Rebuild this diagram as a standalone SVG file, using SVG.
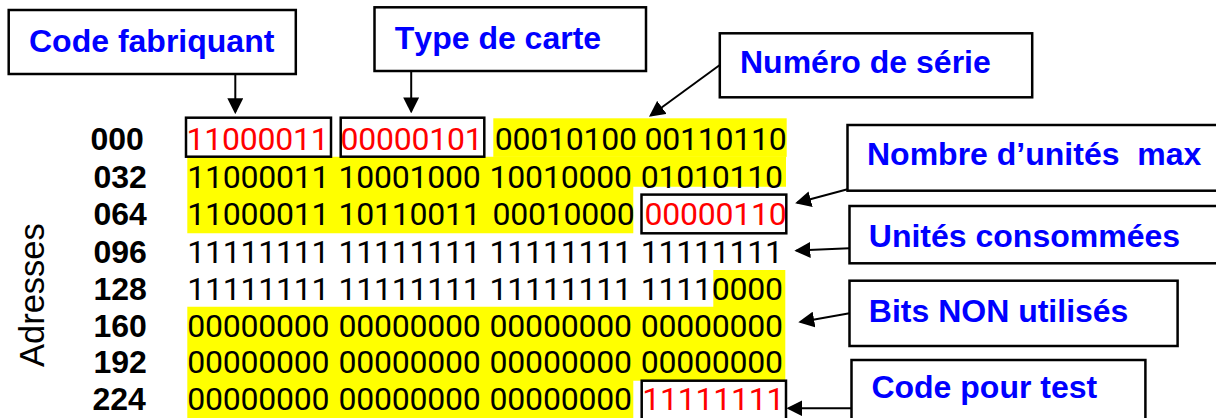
<svg xmlns="http://www.w3.org/2000/svg" width="1216" height="418" viewBox="0 0 1216 418">
<style>
text{font-kerning:none;font-variant-ligatures:none}
.bits{font-family:Roboto,"Liberation Sans",Arial,sans-serif;font-size:32px;fill:#000}
.red{fill:#FF0000}
.adr{font-family:"Liberation Sans",Arial,sans-serif;font-size:34.5px;fill:#000}
.addr{font-family:"Liberation Sans",Arial,sans-serif;font-size:32px;font-weight:bold;fill:#000}
.lbl{font-family:"Liberation Sans",Arial,sans-serif;font-size:32px;font-weight:bold;fill:#0000FF}
.box{fill:#fff;stroke:#000;stroke-width:2.5}
.rbox{fill:none;stroke:#000;stroke-width:2.5}
.hl{fill:#FFFF00;stroke:none}
.conn{stroke:#000;stroke-width:2;fill:none;marker-end:url(#ah)}
</style>
<defs>
<marker id="ah" markerUnits="userSpaceOnUse" markerWidth="16" markerHeight="16" viewBox="0 0 15 15" refX="13" refY="7.5" orient="auto">
<path d="M0,0 L15,7.5 L0,15 Z" fill="#000"/>
</marker>
</defs>
<rect width="1216" height="418" fill="#fff"/>

<g id="highlight">
<rect class="hl" x="493.3" y="118.3" width="293.4" height="38.6"/>
<path class="hl" d="M187.3,156.7 H786 V186.7 H633.3 V233.3 H187.3 Z"/>
<path class="hl" d="M713.3,270 H785.3 V380.7 H633.3 V418 H187.3 V306.7 H713.3 Z"/>
</g>

<g id="adresses">
<text class="adr" transform="translate(43.5,367) rotate(-90)">Adresses</text>
</g>

<g id="row-000">
<text class="addr" x="90.5" y="150">000</text>
<text class="bits red" x="186.5" y="150" textLength="142.3">11000011</text>
<text class="bits red" x="340.4" y="150" textLength="142.3">00000101</text>
<text class="bits" x="494.7" y="150" textLength="142.3">00010100</text>
<text class="bits" x="644.4" y="150" textLength="142.3">00110110</text>
</g>
<g id="row-032">
<text class="addr" x="93.5" y="187.5">032</text>
<text class="bits" x="187.2" y="187.5" textLength="142.3">11000011</text>
<text class="bits" x="338.4" y="187.5" textLength="142.3">10001000</text>
<text class="bits" x="489.6" y="187.5" textLength="142.3">10010000</text>
<text class="bits" x="640.8" y="187.5" textLength="142.3">01010110</text>
</g>
<g id="row-064">
<text class="addr" x="93.5" y="225">064</text>
<text class="bits" x="187.2" y="225" textLength="142.3">11000011</text>
<text class="bits" x="338.4" y="225" textLength="142.3">10110011</text>
<text class="bits" x="492.5" y="225" textLength="142.3">00010000</text>
<text class="bits red" x="644.4" y="225" textLength="142.3">00000110</text>
</g>
<g id="row-096">
<text class="addr" x="93.5" y="262.5">096</text>
<text class="bits" x="187.2" y="262.5" textLength="142.3">11111111</text>
<text class="bits" x="338.4" y="262.5" textLength="142.3">11111111</text>
<text class="bits" x="489.6" y="262.5" textLength="142.3">11111111</text>
<text class="bits" x="640.8" y="262.5" textLength="142.3">11111111</text>
</g>
<g id="row-128">
<text class="addr" x="93.5" y="300">128</text>
<text class="bits" x="187.2" y="300" textLength="142.3">11111111</text>
<text class="bits" x="338.4" y="300" textLength="142.3">11111111</text>
<text class="bits" x="489.6" y="300" textLength="142.3">11111111</text>
<text class="bits" x="640.8" y="300" textLength="142.3">11110000</text>
</g>
<g id="row-160">
<text class="addr" x="93.5" y="337">160</text>
<text class="bits" x="187.2" y="337" textLength="142.3">00000000</text>
<text class="bits" x="338.4" y="337" textLength="142.3">00000000</text>
<text class="bits" x="489.6" y="337" textLength="142.3">00000000</text>
<text class="bits" x="640.8" y="337" textLength="142.3">00000000</text>
</g>
<g id="row-192">
<text class="addr" x="93.5" y="373">192</text>
<text class="bits" x="187.2" y="373" textLength="142.3">00000000</text>
<text class="bits" x="338.4" y="373" textLength="142.3">00000000</text>
<text class="bits" x="489.6" y="373" textLength="142.3">00000000</text>
<text class="bits" x="640.8" y="373" textLength="142.3">00000000</text>
</g>
<g id="row-224">
<text class="addr" x="92.5" y="410">224</text>
<text class="bits" x="187.2" y="410" textLength="142.3">00000000</text>
<text class="bits" x="338.4" y="410" textLength="142.3">00000000</text>
<text class="bits" x="489.6" y="410" textLength="142.3">00000000</text>
<text class="bits red" x="642.2" y="410" textLength="142.3">11111111</text>
</g>

<g id="field-boxes">
<rect class="rbox" x="186" y="117.7" width="145" height="39"/>
<rect class="rbox" x="340.7" y="117.7" width="143.6" height="39"/>
<rect class="rbox" x="641.5" y="194.6" width="144.8" height="38.7"/>
<rect class="rbox" x="641.7" y="380.7" width="144.3" height="40"/>
</g>

<g id="code-fabriquant">
<rect class="box" x="8.7" y="10" width="287.1" height="64"/>
<text class="lbl" x="29" y="51.7">Code fabriquant</text>
</g>
<g id="type-de-carte">
<rect class="box" x="374.5" y="7.3" width="271.5" height="63.7"/>
<text class="lbl" x="394.8" y="49.3">Type de carte</text>
</g>
<g id="numero-de-serie">
<rect class="box" x="719.8" y="33.3" width="312.4" height="64"/>
<text class="lbl" x="740" y="73.3">Numéro de série</text>
</g>
<g id="nombre-unites-max">
<rect class="box" x="847.5" y="125" width="372" height="65.7"/>
<text class="lbl" x="867" y="165" xml:space="preserve">Nombre d’unités  max</text>
</g>
<g id="unites-consommees">
<rect class="box" x="849.5" y="206" width="370" height="57.3"/>
<text class="lbl" x="868.8" y="246.7">Unités consommées</text>
</g>
<g id="bits-non-utilises">
<rect class="box" x="849.5" y="280.7" width="328.1" height="65.3"/>
<text class="lbl" x="868.8" y="321.7">Bits NON utilisés</text>
</g>
<g id="code-pour-test">
<rect class="box" x="851.5" y="360" width="293.9" height="70"/>
<text class="lbl" x="871.4" y="398.3">Code pour test</text>
</g>

<g id="connectors">
<line class="conn" x1="235.3" y1="74" x2="235.3" y2="112"/>
<line class="conn" x1="411.2" y1="71" x2="411.2" y2="111.3"/>
<line class="conn" x1="719.8" y1="65" x2="650.7" y2="115.5"/>
<line class="conn" x1="847.5" y1="189.3" x2="797.2" y2="202.8"/>
<line class="conn" x1="849.5" y1="248.3" x2="796.5" y2="250.6"/>
<line class="conn" x1="849.5" y1="313.3" x2="800.4" y2="322"/>
<line class="conn" x1="851.5" y1="408.3" x2="788.6" y2="408.3"/>
</g>
</svg>
